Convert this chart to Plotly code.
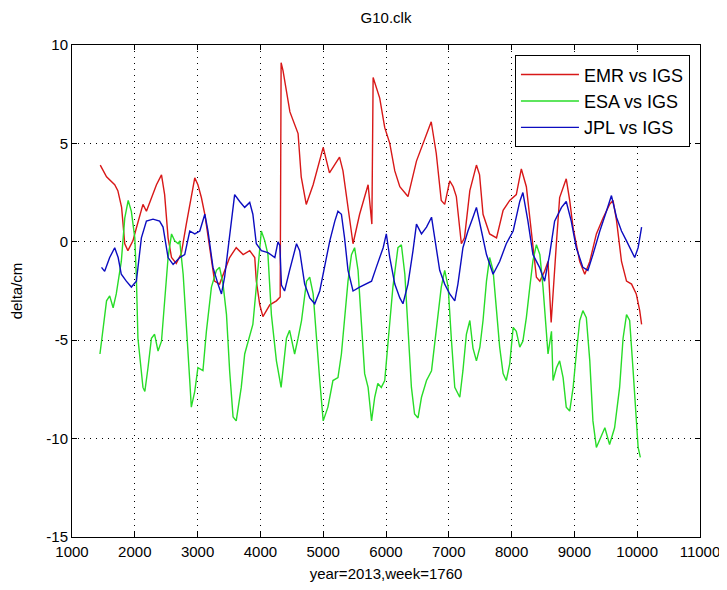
import plotly.graph_objects as go

# ---- data ----
emr_x = [1450, 1550, 1680, 1730, 1790, 1840, 1890, 1970, 2025, 2130, 2185, 2265, 2345, 2425, 2475, 2530, 2585, 2660, 2740, 2820,
         2900, 2955, 3005, 3060, 3115, 3195, 3270, 3350, 3405, 3510, 3615, 3725, 3830, 3910, 3935, 3990, 4040, 4150, 4255, 4315,
         4330, 4360, 4470, 4600, 4650, 4730, 4840, 5000, 5100, 5260, 5315, 5395, 5475, 5580, 5690, 5715, 5775, 5795, 5900, 5980,
         6060, 6140, 6220, 6350, 6485, 6645, 6720, 6800, 6880, 6935, 7015, 7070, 7120, 7200, 7250, 7335, 7440, 7490, 7545, 7650,
         7760, 7865, 7970, 8075, 8155, 8235, 8315, 8395, 8450, 8525, 8580, 8630, 8715, 8765, 8870, 8925, 8980, 9085, 9165, 9245,
         9350, 9455, 9560, 9615, 9670, 9750, 9830, 9910, 9985, 10040, 10070]
emr_y = [3.9, 3.3, 2.9, 2.6, 1.75, -0.1, -0.45, 0.05, 0.7, 1.9, 1.55, 2.25, 2.9, 3.4, 2.4, 0.2, -0.8, -1.1, -0.6, 0.9,
         2.4, 3.25, 2.9, 2.25, 1.4, -0.45, -2.0, -2.15, -1.65, -0.8, -0.3, -0.65, -0.45, -0.8, -2.0, -3.2, -3.8, -3.2, -3.0, -2.8,
         9.1, 8.7, 6.6, 5.5, 3.3, 1.9, 2.9, 4.8, 3.5, 4.3, 3.6, 1.6, -0.1, 1.4, 2.6, 2.9, 0.9, 8.35, 7.3, 5.8,
         5.0, 3.6, 2.8, 2.3, 4.1, 5.5, 6.1, 4.5, 2.1, 1.9, 3.1, 2.8, 2.3, -0.1, 0.2, 2.6, 3.9, 3.4, 1.4, 0.4,
         0.2, 1.6, 2.1, 2.4, 3.7, 2.8, 0.4, -1.8, -2.0, -1.5, -1.0, -4.1, 0.0, 2.25, 3.2, 2.1, 0.7, -1.0, -1.65, -1.0,
         0.4, 1.2, 1.9, 2.1, 1.1, -1.0, -2.0, -2.15, -2.65, -3.5, -4.2]

esa_x = [1445, 1495, 1550, 1600, 1655, 1705, 1785, 1840, 1895, 1945, 2000, 2025, 2050, 2130, 2160, 2210, 2265, 2315, 2370, 2425,
         2475, 2530, 2585, 2635, 2690, 2715, 2770, 2820, 2875, 2900, 2955, 3005, 3085, 3140, 3220, 3300, 3350, 3405, 3460, 3510,
         3565, 3615, 3695, 3750, 3805, 3880, 3935, 3990, 4015, 4070, 4120, 4175, 4255, 4330, 4415, 4465, 4545, 4600, 4655, 4735,
         4785, 4840, 4890, 4945, 5000, 5075, 5155, 5235, 5290, 5340, 5395, 5450, 5500, 5555, 5610, 5660, 5715, 5770, 5820, 5870,
         5925, 5980, 6030, 6110, 6190, 6245, 6300, 6350, 6405, 6455, 6510, 6565, 6645, 6725, 6805, 6880, 6935, 6990, 7040, 7095,
         7175, 7225, 7280, 7335, 7385, 7440, 7495, 7545, 7600, 7650, 7705, 7760, 7810, 7865, 7915, 7970, 8025, 8075, 8130, 8180,
         8235, 8290, 8340, 8395, 8450, 8500, 8555, 8580, 8635, 8660, 8715, 8765, 8820, 8870, 8925, 8980, 9030, 9085, 9135, 9190,
         9245, 9295, 9350, 9430, 9485, 9560, 9640, 9720, 9775, 9830, 9880, 9935, 9985, 10015, 10050]
esa_y = [-5.7, -4.35, -3.0, -2.75, -3.35, -2.65, -1.0, 1.2, 2.1, 1.55, 0.2, -1.8, -4.9, -7.4, -7.6, -6.4, -4.9, -4.7, -5.55, -5.05,
         -3.15, -0.8, 0.4, 0.05, -0.1, 0.05, -1.65, -4.0, -7.05, -8.4, -7.6, -6.4, -6.55, -4.55, -2.3, -1.45, -1.3, -2.15, -3.7, -6.55,
         -8.9, -9.1, -7.4, -5.7, -5.05, -4.2, -2.3, -0.3, 0.55, 0.05, -0.65, -3.7, -6.05, -7.4, -4.9, -4.5, -5.7, -4.9, -4.0, -2.0,
         -1.8, -2.65, -4.9, -7.05, -9.1, -8.4, -7.05, -6.9, -5.7, -4.0, -2.0, -0.65, -0.3, -1.45, -4.0, -6.7, -7.4, -9.1, -7.9, -7.2,
         -7.4, -7.05, -5.2, -2.3, -0.3, -0.15, -1.65, -4.35, -7.4, -8.75, -8.95, -7.9, -7.05, -6.55, -4.35, -2.3, -1.45, -2.3, -4.9, -7.4,
         -7.9, -6.55, -4.7, -4.0, -5.4, -6.05, -5.35, -4.0, -2.0, -0.8, -1.45, -3.7, -5.35, -6.7, -7.05, -6.2, -4.35, -4.55, -5.35, -5.05,
         -3.85, -2.3, -0.95, -0.15, -0.65, -2.3, -4.35, -5.7, -4.55, -7.05, -6.4, -6.05, -6.9, -8.4, -8.6, -7.4, -5.7, -4.0, -3.5, -3.85,
         -6.05, -9.1, -10.45, -9.8, -9.45, -10.3, -9.45, -7.4, -4.9, -3.7, -4.0, -6.55, -9.1, -10.45, -10.95]

jpl_x = [1470, 1520, 1600, 1680, 1735, 1785, 1865, 1945, 2025, 2105, 2185, 2290, 2395, 2450, 2530, 2610, 2715, 2795, 2875, 2955,
         3035, 3115, 3165, 3245, 3325, 3380, 3430, 3510, 3590, 3670, 3750, 3830, 3880, 3935, 4015, 4120, 4230, 4280, 4310, 4335,
         4385, 4465, 4575, 4625, 4705, 4785, 4865, 4945, 5025, 5105, 5185, 5235, 5290, 5340, 5395, 5475, 5580, 5690, 5770, 5845,
         5955, 6005, 6060, 6140, 6220, 6270, 6350, 6430, 6485, 6565, 6645, 6725, 6775, 6855, 6935, 7015, 7095, 7145, 7225, 7305,
         7385, 7440, 7520, 7600, 7705, 7810, 7915, 8025, 8130, 8180, 8260, 8340, 8445, 8525, 8605, 8685, 8795, 8870, 8950, 9030,
         9135, 9215, 9295, 9405, 9510, 9590, 9670, 9750, 9830, 9880, 9960, 10015, 10070]
jpl_y = [-1.3, -1.5, -0.8, -0.3, -0.8, -1.65, -2.0, -2.3, -2.0, 0.2, 1.05, 1.15, 1.05, 0.75, -0.8, -1.15, -0.8, -0.65, 0.55, 0.4,
         0.55, 1.4, 0.55, -1.3, -2.15, -2.65, -1.8, 0.2, 2.4, 2.05, 1.75, 2.0, 1.4, -0.1, -0.45, -0.55, -0.8, 0.0, -0.2, -2.2,
         -2.5, -1.45, -0.1, -0.45, -2.15, -2.85, -3.15, -2.5, -1.15, 0.05, 1.05, 1.55, 1.4, 0.2, -1.45, -2.5, -2.3, -2.15, -2.0, -1.3,
         -0.3, 0.4, -0.8, -2.15, -2.85, -3.15, -2.15, -0.45, 0.9, 0.4, 0.75, 1.25, 0.2, -1.45, -2.15, -2.65, -3.0, -2.15, -0.3, 0.55,
         1.25, 1.75, 0.55, -0.65, -1.65, -1.0, -0.1, 0.55, 2.05, 2.5, 1.05, -0.65, -1.3, -2.0, -0.65, 1.05, 1.75, 2.05, 1.05, -0.3,
         -1.3, -1.45, -0.65, 0.55, 1.55, 2.35, 1.25, 0.55, 0.05, -0.3, -0.8, -0.3, 0.75]

series_names = ["EMR vs IGS", "ESA vs IGS", "JPL vs IGS"]
series_colors = ["#d81818", "#28dc28", "#0c0cc0"]

x_ticks = list(range(1000, 11001, 1000))
y_ticks = [-15, -10, -5, 0, 5, 10]

FONT = "Liberation Sans, Arial, sans-serif"

# the page body adds an 8px offset, so the figure is 8px smaller than the window
W, H = 719, 582

fig = go.Figure()
for name, xs, ys, col in zip(series_names, [emr_x, esa_x, jpl_x], [emr_y, esa_y, jpl_y], series_colors):
    fig.add_trace(go.Scatter(x=xs, y=ys, mode="lines", name=name, legendgroup=name,
                             line=dict(color=col, width=1.4)))

axis_common = dict(
    showline=True, linecolor="black", linewidth=1, mirror="ticks",
    ticks="inside", ticklen=5, tickcolor="black",
    showgrid=True, gridcolor="black", gridwidth=1, griddash="1px,5px",
    zeroline=False, automargin=False,
    tickfont=dict(family=FONT, size=15, color="black"),
)

fig.update_layout(
    width=W, height=H,
    margin=dict(l=64, r=27, t=37, b=53),
    paper_bgcolor="white", plot_bgcolor="white",
    font=dict(family=FONT, size=15, color="black"),
    title=dict(text="G10.clk", x=0.5, xref="paper", xanchor="center",
               y=1 - 10 / H, yref="container", yanchor="middle",
               font=dict(family=FONT, size=15, color="black")),
    xaxis=dict(range=[1000, 11000], tickvals=x_ticks, ticktext=[str(v) for v in x_ticks],
               ticklabelstandoff=1,
               title=dict(text="year=2013,week=1760", standoff=9, font=dict(family=FONT, size=15)),
               **axis_common),
    yaxis=dict(range=[-15, 10], tickvals=y_ticks, ticktext=[str(v) for v in y_ticks],
               title=dict(text="delta/cm", standoff=27, font=dict(family=FONT, size=15)),
               **axis_common),
    legend=dict(x=0.984, xanchor="right", y=0.979, yanchor="top",
                bordercolor="black", borderwidth=1, bgcolor="white",
                font=dict(family=FONT, size=18, color="black"),
                tracegroupgap=0, traceorder="grouped", itemwidth=58),
    showlegend=True,
)

fig.write_html("out.html")
